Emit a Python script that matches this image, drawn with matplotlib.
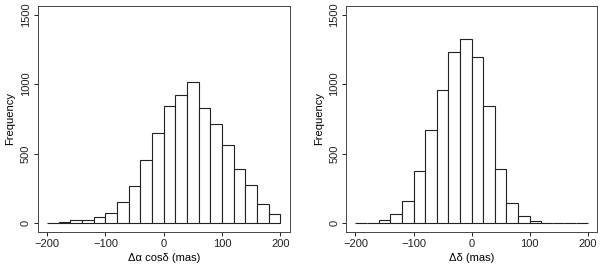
import numpy as np
import matplotlib
matplotlib.use("Agg")
import matplotlib.pyplot as plt

plt.rcParams['font.family'] = ['Liberation Sans', 'DejaVu Sans']

# histogram bins (mas), width 20
bin_edges = np.arange(-200, 201, 20)

# counts per bin
counts_ra = [2, 12, 22, 22, 48, 72, 152, 270, 452, 652,
             845, 925, 1014, 828, 710, 560, 391, 273, 140, 68]
counts_dec = [5, 1, 22, 65, 160, 375, 670, 958, 1230, 1325,
              1195, 840, 390, 147, 55, 17, 3, 1, 1, 0]

xlabels = ['Δα cosδ (mas)', 'Δδ (mas)']
xticks = [-200, -100, 0, 100, 200]
yticks = [0, 500, 1000, 1500]

fig = plt.figure(figsize=(6.0, 2.69), dpi=100)
ax1 = fig.add_axes([0.063, 0.138, 0.420, 0.840])
ax2 = fig.add_axes([0.577, 0.138, 0.418, 0.840])

for ax, counts, xlab in [(ax1, counts_ra, xlabels[0]), (ax2, counts_dec, xlabels[1])]:
    ax.bar(bin_edges[:-1], counts, width=np.diff(bin_edges), align='edge',
           facecolor='white', edgecolor='#222222', linewidth=0.8)
    ax.set_xlim(-216, 216)
    ax.set_ylim(-62, 1562)
    ax.set_xticks(xticks)
    ax.set_xticklabels(['\u2212200', '\u2212100', '0', '100', '200'])
    ax.set_yticks(yticks)
    ax.set_yticklabels([str(v) for v in yticks], rotation=90, va='center')
    ax.tick_params(direction='out', length=3, width=0.7, labelsize=8, pad=2, colors='#222222')
    for sp in ax.spines.values():
        sp.set_linewidth(0.7)
        sp.set_color('#444444')
    ax.set_xlabel(xlab, fontsize=8, labelpad=3)
    ax.set_ylabel('Frequency', fontsize=8, labelpad=4)

fig.savefig('out.png', dpi=100)
